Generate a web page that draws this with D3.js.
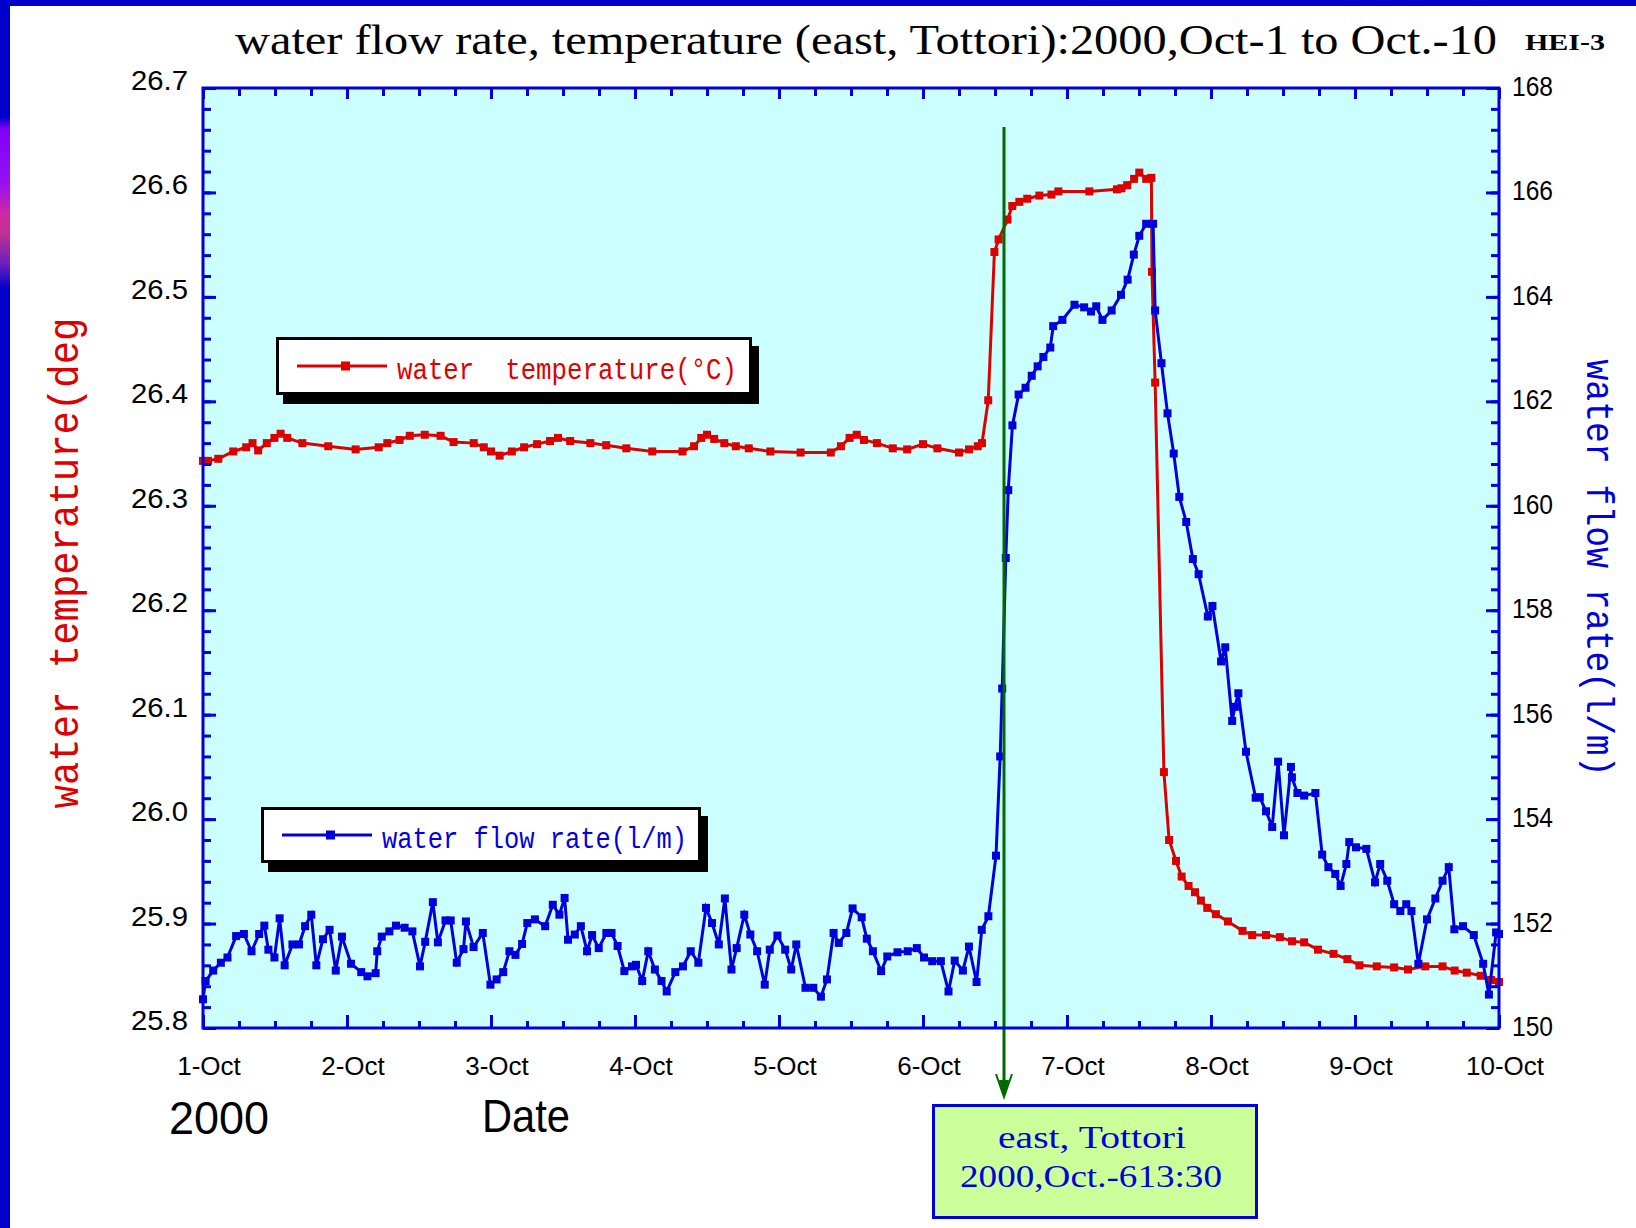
<!DOCTYPE html>
<html>
<head>
<meta charset="utf-8">
<script src="https://cdn.jsdelivr.net/npm/d3@7"></script>
<style>
  body { margin: 0; background: #fff; }
  svg { display: block; }
</style>
</head>
<body>
<script>
// readings taken off the chart, time in days after 1-Oct 00:00
var tempDays = [0.00, 0.035, 0.106, 0.21, 0.30, 0.344, 0.383, 0.443, 0.496, 0.539, 0.585, 0.69, 0.87,
  1.06, 1.22, 1.28, 1.365, 1.436, 1.54, 1.65, 1.74, 1.88, 1.95, 2.00, 2.06, 2.145, 2.23, 2.32, 2.41,
  2.465, 2.55, 2.69, 2.80, 2.94, 3.12, 3.33, 3.41, 3.46, 3.50, 3.55, 3.62, 3.70, 3.79, 3.94, 4.15,
  4.36, 4.43, 4.49, 4.54, 4.59, 4.68, 4.79, 4.89, 5.00, 5.10, 5.25, 5.32, 5.38, 5.41, 5.453, 5.496,
  5.525, 5.587, 5.62, 5.669, 5.724, 5.808, 5.892, 5.94, 6.155, 6.347, 6.378, 6.418, 6.466, 6.502,
  6.55, 6.586, 6.59, 6.612, 6.673, 6.709, 6.757, 6.796, 6.844, 6.889, 6.93, 6.974, 7.034, 7.118,
  7.219, 7.286, 7.382, 7.478, 7.563, 7.647, 7.743, 7.851, 7.947, 8.031, 8.151, 8.272, 8.368, 8.488,
  8.608, 8.692, 8.776, 8.873, 8.945, 9.00];
var tempVals = [26.343, 26.343, 26.345, 26.352, 26.356, 26.360, 26.353, 26.360, 26.365, 26.369, 26.365,
  26.360, 26.357, 26.354, 26.356, 26.360, 26.363, 26.367, 26.368, 26.367, 26.361, 26.360, 26.356,
  26.352, 26.348, 26.352, 26.356, 26.359, 26.362, 26.365, 26.362, 26.360, 26.358, 26.355, 26.352,
  26.352, 26.357, 26.365, 26.368, 26.364, 26.360, 26.357, 26.355, 26.352, 26.351, 26.351, 26.357,
  26.365, 26.368, 26.363, 26.360, 26.355, 26.354, 26.359, 26.355, 26.351, 26.354, 26.357, 26.360,
  26.401, 26.543, 26.555, 26.574, 26.587, 26.591, 26.594, 26.597, 26.598, 26.601, 26.601, 26.603,
  26.604, 26.607, 26.613, 26.619, 26.613, 26.614, 26.524, 26.418, 26.045, 25.980, 25.960, 25.945,
  25.936, 25.930, 25.922, 25.915, 25.909, 25.902, 25.893, 25.889, 25.889, 25.887, 25.883, 25.882,
  25.875, 25.871, 25.866, 25.860, 25.859, 25.858, 25.856, 25.859, 25.859, 25.855, 25.853, 25.850,
  25.846, 25.844];

var flowDays = [0.000, 0.018, 0.071, 0.124, 0.170, 0.230, 0.284, 0.337, 0.390, 0.426, 0.454, 0.496,
  0.532, 0.567, 0.621, 0.667, 0.709, 0.752, 0.787, 0.833, 0.879, 0.922, 0.965, 1.028, 1.099, 1.142,
  1.199, 1.210, 1.241, 1.294, 1.340, 1.400, 1.454, 1.507, 1.543, 1.596, 1.631, 1.684, 1.720, 1.762,
  1.809, 1.826, 1.879, 1.943, 1.996, 2.039, 2.085, 2.128, 2.170, 2.216, 2.252, 2.305, 2.376, 2.429,
  2.475, 2.511, 2.535, 2.582, 2.624, 2.667, 2.702, 2.748, 2.801, 2.837, 2.879, 2.926, 2.979, 3.007,
  3.050, 3.092, 3.138, 3.184, 3.220, 3.280, 3.333, 3.387, 3.440, 3.493, 3.535, 3.582, 3.624, 3.670,
  3.706, 3.759, 3.801, 3.848, 3.901, 3.936, 3.989, 4.043, 4.085, 4.120, 4.184, 4.238, 4.291, 4.333,
  4.379, 4.415, 4.468, 4.511, 4.574, 4.610, 4.652, 4.709, 4.752, 4.823, 4.894, 4.957, 5.007, 5.064,
  5.124, 5.177, 5.220, 5.277, 5.319, 5.372, 5.408, 5.454, 5.507, 5.536, 5.550, 5.575, 5.592, 5.621,
  5.664, 5.712, 5.755, 5.796, 5.836, 5.884, 5.904, 5.968, 6.052, 6.119, 6.167, 6.203, 6.246, 6.310,
  6.375, 6.421, 6.464, 6.502, 6.550, 6.598, 6.612, 6.656, 6.698, 6.741, 6.780, 6.828, 6.874, 6.914,
  6.978, 7.010, 7.070, 7.099, 7.147, 7.166, 7.190, 7.243, 7.310, 7.339, 7.382, 7.425, 7.466, 7.507,
  7.555, 7.562, 7.600, 7.647, 7.725, 7.772, 7.815, 7.863, 7.900, 7.940, 7.960, 8.007, 8.079, 8.139,
  8.175, 8.224, 8.272, 8.315, 8.356, 8.392, 8.440, 8.500, 8.558, 8.608, 8.651, 8.690, 8.750, 8.825,
  8.890, 8.930, 8.980, 9.000];
var flowVals = [150.55, 150.90, 151.10, 151.25, 151.35, 151.76, 151.80, 151.47, 151.80, 151.96, 151.50,
  151.35, 152.10, 151.20, 151.60, 151.60, 151.95, 152.17, 151.20, 151.70, 151.88, 151.10, 151.75,
  151.23, 151.07, 150.99, 151.05, 151.47, 151.75, 151.85, 151.96, 151.92, 151.85, 151.18, 151.65,
  152.41, 151.64, 152.06, 152.06, 151.25, 151.51, 152.04, 151.55, 151.82, 150.83, 150.93, 151.07,
  151.47, 151.40, 151.61, 152.01, 152.08, 151.95, 152.36, 152.17, 152.49, 151.69, 151.79, 151.95,
  151.47, 151.78, 151.53, 151.82, 151.82, 151.57, 151.09, 151.18, 151.21, 150.90, 151.47, 151.12,
  150.90, 150.70, 151.07, 151.18, 151.47, 151.25, 152.30, 152.01, 151.60, 152.48, 151.12, 151.53,
  152.17, 151.79, 151.47, 150.83, 151.50, 151.77, 151.50, 151.12, 151.60, 150.77, 150.77, 150.60,
  150.93, 151.82, 151.63, 151.82, 152.29, 152.12, 151.71, 151.47, 151.09, 151.37, 151.45, 151.47,
  151.53, 151.35, 151.28, 151.28, 150.70, 151.29, 151.10, 151.56, 150.88, 151.88, 152.14, 153.30,
  155.20, 156.50, 159.00, 160.30, 161.54, 162.13, 162.26, 162.49, 162.67, 162.85, 163.03, 163.44,
  163.56, 163.85, 163.80, 163.72, 163.82, 163.56, 163.74, 164.04, 164.33, 164.81, 165.17, 165.40,
  165.40, 163.74, 162.73, 161.77, 161.00, 160.17, 159.69, 158.98, 158.69, 157.88, 158.08, 157.02,
  157.29, 155.88, 156.15, 156.41, 155.29, 154.41, 154.42, 154.15, 153.85, 155.10, 153.69, 155.00,
  154.80, 154.50, 154.45, 154.50, 153.32, 153.08, 152.95, 152.72, 153.14, 153.56, 153.46, 153.43,
  152.79, 153.14, 152.82, 152.37, 152.24, 152.37, 152.24, 151.23, 152.08, 152.48, 152.82, 153.08,
  151.89, 151.95, 151.78, 151.23, 150.64, 151.83, 151.80];

var dayLabels = ["1-Oct", "2-Oct", "3-Oct", "4-Oct", "5-Oct", "6-Oct", "7-Oct", "8-Oct", "9-Oct", "10-Oct"];
var tempTicks = [25.8, 25.9, 26.0, 26.1, 26.2, 26.3, 26.4, 26.5, 26.6, 26.7];
var flowTicks = [150, 152, 154, 156, 158, 160, 162, 164, 166, 168];
var eventDay = 5.5625; // 6-Oct 13:30

var w = 1636, h = 1228;
var margin = {top: 88, right: 137, bottom: 200, left: 203};
var innerW = w - margin.left - margin.right,
    innerH = h - margin.top - margin.bottom;

var blue = "#0000dd", red = "#dd0000";

var x = d3.scaleLinear().domain([0, 9]).range([margin.left, margin.left + innerW]);
var yT = d3.scaleLinear().domain([25.8, 26.7]).range([margin.top + innerH, margin.top]);
var yF = d3.scaleLinear().domain([150, 168]).range([margin.top + innerH, margin.top]);

var svg = d3.select("body").append("svg")
    .attr("width", w)
    .attr("height", h);

// page frame: blue strips on top and left
var grad = svg.append("defs").append("linearGradient")
    .attr("id", "side").attr("x1", 0).attr("y1", 0).attr("x2", 0).attr("y2", 1);
[[0, "#0000cc"], [0.095, "#0000cc"], [0.105, "#8000ff"], [0.15, "#9a10f0"], [0.175, "#d02aa0"],
 [0.19, "#c03090"], [0.215, "#6a20c0"], [0.235, "#0000cc"], [1, "#0000cc"]].forEach(function (s) {
  grad.append("stop").attr("offset", s[0]).attr("stop-color", s[1]);
});
svg.append("rect").attr("x", 0).attr("y", 0).attr("width", w).attr("height", 6).attr("fill", "#0000cc");
svg.append("rect").attr("x", 0).attr("y", 0).attr("width", 10).attr("height", h).attr("fill", "url(#side)");

svg.append("rect")
    .attr("x", margin.left).attr("y", margin.top)
    .attr("width", innerW).attr("height", innerH)
    .attr("fill", "#ccffff");

// series
var tempData = d3.zip(tempDays, tempVals);
var flowData = d3.zip(flowDays, flowVals);

function drawSeries(data, yScale, color) {
  var line = d3.line()
      .x(function (d) { return x(d[0]); })
      .y(function (d) { return yScale(d[1]); });
  svg.append("path")
      .datum(data)
      .attr("d", line)
      .attr("fill", "none")
      .attr("stroke", color)
      .attr("stroke-width", 3);
  svg.append("g").selectAll("rect")
      .data(data)
      .enter().append("rect")
      .attr("x", function (d) { return x(d[0]) - 4; })
      .attr("y", function (d) { return yScale(d[1]) - 4; })
      .attr("width", 8)
      .attr("height", 8)
      .attr("fill", color);
}
drawSeries(tempData, yT, red);
drawSeries(flowData, yF, blue);

// event marker
var ex = x(eventDay);
svg.append("line")
    .attr("x1", ex).attr("x2", ex)
    .attr("y1", 127).attr("y2", 1094)
    .attr("stroke", "#006a00").attr("stroke-width", 3);
svg.append("path")
    .attr("d", "M" + (ex - 8) + ",1074 L" + ex + ",1097 L" + (ex + 8) + ",1074")
    .attr("fill", "none").attr("stroke", "#006a00").attr("stroke-width", 2);
svg.append("path")
    .attr("d", "M" + (ex - 5) + ",1080 L" + ex + ",1097 L" + (ex + 5) + ",1080 Z")
    .attr("fill", "#006a00");

// axes: ticks point into the plot
function tickMarks(g, axis, vals, size) {
  g.call(axis.tickValues(vals).tickSize(size).tickFormat(""))
    .call(function (s) { s.select(".domain").remove(); })
    .selectAll("line").attr("stroke", blue).attr("stroke-width", 3);
}
var tMinor = d3.range(0.05, 9, 0.25).map(function (v) { return Math.round((v - 0.05) * 4) / 4; }).filter(function (v) { return v % 1 !== 0; });
var tMajor = d3.range(0, 10);
var yMinor = d3.range(0, 46).map(function (i) { return 25.8 + i * 0.02; });
var fMinor = d3.range(0, 46).map(function (i) { return 150 + i * 0.4; });

var axB = svg.append("g").attr("transform", "translate(0," + (margin.top + innerH) + ")");
tickMarks(axB.append("g"), d3.axisTop(x), tMinor, 7);
tickMarks(axB.append("g"), d3.axisTop(x), tMajor, 13);
var axT = svg.append("g").attr("transform", "translate(0," + margin.top + ")");
tickMarks(axT.append("g"), d3.axisBottom(x), tMinor, 8);
tickMarks(axT.append("g"), d3.axisBottom(x), tMajor, 11);
var axL = svg.append("g").attr("transform", "translate(" + margin.left + ",0)");
tickMarks(axL.append("g"), d3.axisRight(yT), yMinor, 8);
tickMarks(axL.append("g"), d3.axisRight(yT), tempTicks, 13);
var axR = svg.append("g").attr("transform", "translate(" + (margin.left + innerW) + ",0)");
tickMarks(axR.append("g"), d3.axisLeft(yF), fMinor, 8);
tickMarks(axR.append("g"), d3.axisLeft(yF), flowTicks, 13);

svg.append("rect")
    .attr("x", margin.left).attr("y", margin.top)
    .attr("width", innerW).attr("height", innerH)
    .attr("fill", "none").attr("stroke", blue).attr("stroke-width", 3);

// tick labels
svg.append("g").selectAll("text")
    .data(tempTicks)
    .enter().append("text")
    .attr("x", 188)
    .attr("y", function (d) { return yT(d) + 2; })
    .attr("text-anchor", "end")
    .attr("font-family", "Liberation Sans")
    .attr("font-size", 28)
    .attr("textLength", 57)
    .attr("lengthAdjust", "spacingAndGlyphs")
    .text(d3.format(".1f"));

svg.append("g").selectAll("text")
    .data(flowTicks)
    .enter().append("text")
    .attr("x", 1512)
    .attr("y", function (d) { return yF(d) + 8; })
    .attr("font-family", "Liberation Sans")
    .attr("font-size", 27)
    .attr("textLength", 41)
    .attr("lengthAdjust", "spacingAndGlyphs")
    .text(function (d) { return d; });

svg.append("g").selectAll("text")
    .data(dayLabels)
    .enter().append("text")
    .attr("x", function (d, i) { return x(i) + 6; })
    .attr("y", 1075)
    .attr("text-anchor", "middle")
    .attr("font-family", "Liberation Sans")
    .attr("font-size", 26)
    .text(function (d) { return d; });

svg.append("text")
    .attr("x", 169).attr("y", 1134)
    .attr("font-family", "Liberation Sans").attr("font-size", 46)
    .attr("textLength", 100).attr("lengthAdjust", "spacingAndGlyphs")
    .text("2000");
svg.append("text")
    .attr("x", 482).attr("y", 1132)
    .attr("font-family", "Liberation Sans").attr("font-size", 46)
    .attr("textLength", 88).attr("lengthAdjust", "spacingAndGlyphs")
    .text("Date");

// titles
svg.append("text")
    .attr("x", 235).attr("y", 54)
    .attr("font-family", "Liberation Serif").attr("font-size", 42)
    .attr("textLength", 1262).attr("lengthAdjust", "spacingAndGlyphs")
    .text("water flow rate, temperature (east, Tottori):2000,Oct-1 to Oct.-10");
svg.append("text")
    .attr("x", 1525).attr("y", 50)
    .attr("font-family", "Liberation Serif").attr("font-weight", "bold").attr("font-size", 24)
    .attr("textLength", 80).attr("lengthAdjust", "spacingAndGlyphs")
    .text("HEI-3");

svg.append("text")
    .attr("transform", "translate(78,563) rotate(-90)")
    .attr("text-anchor", "middle")
    .attr("font-family", "Liberation Mono").attr("font-size", 42)
    .attr("textLength", 491).attr("lengthAdjust", "spacingAndGlyphs")
    .attr("fill", red)
    .text("water temperature(deg");
svg.append("text")
    .attr("transform", "translate(1587,568) rotate(90)")
    .attr("text-anchor", "middle")
    .attr("font-family", "Liberation Mono").attr("font-size", 38)
    .attr("textLength", 417).attr("lengthAdjust", "spacingAndGlyphs")
    .attr("fill", blue)
    .text("water flow rate(l/m)");

// legends
function legend(box, color, label) {
  var g = svg.append("g");
  g.append("rect")
      .attr("x", box.x + 7).attr("y", box.y + 9)
      .attr("width", box.w).attr("height", box.h)
      .attr("fill", "#000");
  g.append("rect")
      .attr("x", box.x + 1.5).attr("y", box.y + 1.5)
      .attr("width", box.w - 3).attr("height", box.h - 3)
      .attr("fill", "#fff").attr("stroke", "#000").attr("stroke-width", 3);
  var ly = box.y + box.h / 2;
  g.append("line")
      .attr("x1", box.x + 21).attr("x2", box.x + 111)
      .attr("y1", ly).attr("y2", ly)
      .attr("stroke", color).attr("stroke-width", 3);
  g.append("rect")
      .attr("x", box.x + 65).attr("y", ly - 4.5)
      .attr("width", 9).attr("height", 9)
      .attr("fill", color);
  g.append("text")
      .attr("x", box.x + 121).attr("y", ly + 13)
      .attr("font-family", "Liberation Mono").attr("font-size", 30)
      .attr("textLength", box.tl).attr("lengthAdjust", "spacingAndGlyphs")
      .attr("fill", color)
      .style("white-space", "pre")
      .text(label);
}
legend({x: 276, y: 337, w: 476, h: 58, tl: 340}, red, "water  temperature(\u00b0C)");
legend({x: 261, y: 807, w: 440, h: 56, tl: 305}, blue, "water flow rate(l/m)");

// event note
svg.append("rect")
    .attr("x", 933.5).attr("y", 1105.5)
    .attr("width", 323).attr("height", 112)
    .attr("fill", "#ccff99").attr("stroke", blue).attr("stroke-width", 3);
svg.append("text")
    .attr("x", 1092).attr("y", 1148)
    .attr("text-anchor", "middle")
    .attr("font-family", "Liberation Serif").attr("font-size", 32)
    .attr("textLength", 188).attr("lengthAdjust", "spacingAndGlyphs")
    .attr("fill", blue)
    .text("east, Tottori");
svg.append("text")
    .attr("x", 1091).attr("y", 1187)
    .attr("text-anchor", "middle")
    .attr("font-family", "Liberation Serif").attr("font-size", 32)
    .attr("textLength", 262).attr("lengthAdjust", "spacingAndGlyphs")
    .attr("fill", blue)
    .text("2000,Oct.-613:30");
</script>
</body>
</html>
